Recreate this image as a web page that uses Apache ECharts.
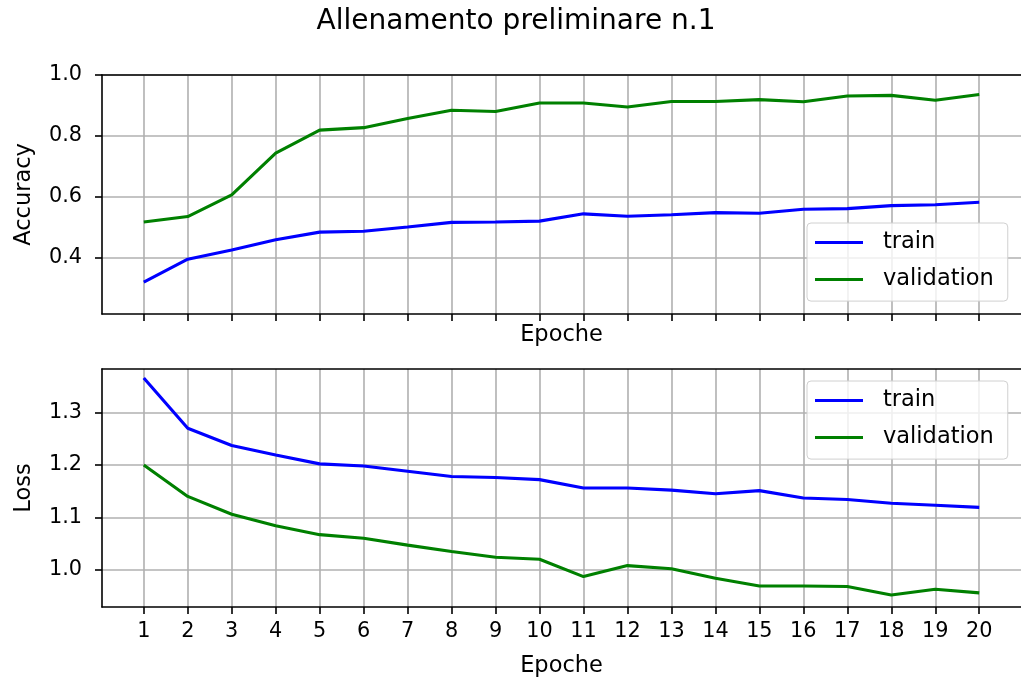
<!DOCTYPE html>
<html><head><meta charset="utf-8">
<script src="https://cdn.jsdelivr.net/npm/echarts@6/dist/echarts.min.js"></script>
<style>html,body{margin:0;padding:0;background:#fff}#c{width:1021px;height:682px}</style>
</head><body><div id="c"></div>
<script>
const epochs = [1,2,3,4,5,6,7,8,9,10,11,12,13,14,15,16,17,18,19,20];
const accTrain = [0.320,0.395,0.425,0.459,0.484,0.487,0.501,0.516,0.517,0.520,0.544,0.536,0.541,0.548,0.546,0.559,0.561,0.571,0.574,0.582];
const accVal = [0.517,0.535,0.606,0.743,0.819,0.827,0.857,0.884,0.880,0.908,0.908,0.895,0.913,0.913,0.919,0.912,0.931,0.933,0.917,0.936];
const lossTrain = [1.366,1.270,1.237,1.219,1.202,1.198,1.188,1.178,1.176,1.172,1.156,1.156,1.152,1.145,1.151,1.137,1.134,1.127,1.123,1.119];
const lossVal = [1.200,1.140,1.106,1.084,1.067,1.060,1.047,1.035,1.024,1.020,0.987,1.008,1.002,0.984,0.969,0.969,0.968,0.952,0.963,0.956];
const accTicks = [0.4,0.6,0.8,1.0];
const lossTicks = [1.0,1.1,1.2,1.3];
const titleText = 'Allenamento preliminare n.1';
const xName = 'Epoche';
const seriesNames = ['train','validation'];

const F = 'DejaVu Sans';
const BLUE = '#0000ff', GREEN = '#008000';
const spine = {color:'#000', width:1.6};
const gridLine = {color:'#b0b0b0', width:1.6};
const txt = {fontFamily:F, fontSize:20.8, color:'#000'};
const txtBig = {fontFamily:F, fontSize:22.5, color:'#000'};

function pairs(ys){ return epochs.map((e,i)=>[e, ys[i]]); }

function xAx(gi, showLabels, gap){
  return {type:'value', gridIndex:gi, min:0.05, max:20.95, position:'bottom',
    name:xName, nameLocation:'middle', nameGap:gap, nameTextStyle:txtBig,
    axisLine:{show:true, onZero:false, lineStyle:spine},
    axisTick:{show:true, length:7, customValues:epochs, lineStyle:spine},
    axisLabel:Object.assign({show:showLabels, customValues:epochs, margin:14,
      formatter:v=>String(Math.round(v))}, txt),
    splitLine:{show:true, lineStyle:gridLine}};
}
function xTop(gi){
  return {type:'value', gridIndex:gi, min:0.05, max:20.95, position:'top', z:3,
    axisLine:{show:true, onZero:false, lineStyle:spine},
    axisTick:{show:false}, axisLabel:{show:false}, splitLine:{show:false}};
}
function yAx(gi, min, max, ticks, name){
  return {type:'value', gridIndex:gi, min:min, max:max,
    name:name, nameLocation:'middle', nameGap:66, nameRotate:90, nameTextStyle:txtBig,
    axisLine:{show:true, onZero:false, lineStyle:spine},
    axisTick:{show:true, length:7, customValues:ticks, lineStyle:spine},
    axisLabel:Object.assign({customValues:ticks, margin:20,
      formatter:v=>v.toFixed(1)}, txt),
    splitLine:{show:true, lineStyle:gridLine}};
}
function ser(name, color, gi, ys){
  return {type:'line', name:name, xAxisIndex:gi, yAxisIndex:gi, data:pairs(ys),
    showSymbol:false, symbol:'none', z:2, color:color,
    itemStyle:{color:color}, lineStyle:{color:color, width:3.1}, animation:false};
}
const legendCommon = {orient:'vertical', data:seriesNames, icon:'rect', itemWidth:48, itemHeight:3,
  itemGap:14.1, padding:[8,14,10,8], backgroundColor:'rgba(255,255,255,0.8)',
  borderColor:'#d0d0d0', borderWidth:1, borderRadius:4, selectedMode:false,
  textStyle:Object.assign({padding:[0,0,0,15], width:118}, txtBig)};

const chart = echarts.init(document.getElementById('c'));
chart.setOption({
  animation:false,
  backgroundColor:'#fff',
  title:{text:titleText, left:516, top:8, textAlign:'center', padding:0,
    textStyle:{fontFamily:F, fontSize:28, fontWeight:'normal', color:'#000'}},
  grid:[{left:102, top:75, width:919, height:239},
        {left:102, top:369, width:919, height:238}],
  xAxis:[xAx(0,false,10), xAx(1,true,48), xTop(0), xTop(1)],
  yAxis:[yAx(0,0.215,1.0,accTicks,'Accuracy'), yAx(1,0.929,1.383,lossTicks,'Loss')],
  legend:[Object.assign({left:807, top:223}, legendCommon),
          Object.assign({left:807, top:381}, legendCommon)],
  series:[ser('train',BLUE,0,accTrain), ser('validation',GREEN,0,accVal),
          ser('train',BLUE,1,lossTrain), ser('validation',GREEN,1,lossVal)]
});
</script></body></html>
